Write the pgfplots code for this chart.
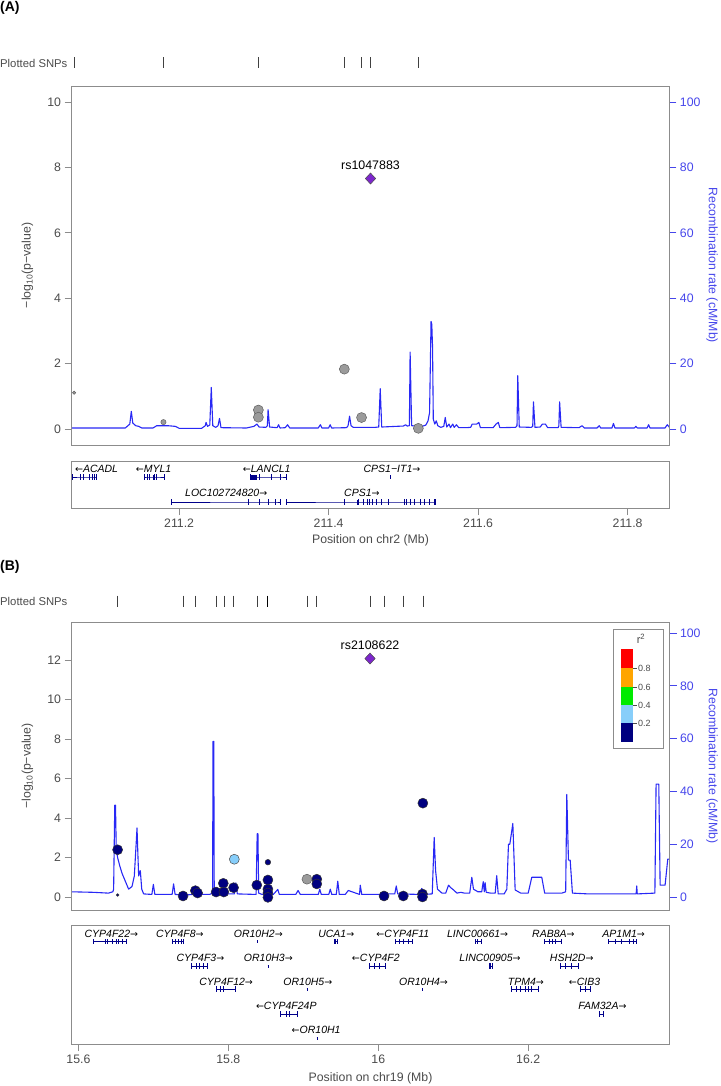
\documentclass[border=0pt]{standalone}
\usepackage{pgfplots}
\pgfplotsset{compat=1.18}
\usepackage{fontspec}
\setmainfont{Liberation Sans}
\newfontfamily\arr{DejaVu Sans}
\newcommand{\RA}{{\fontsize{9.5}{10}\arr →}}
\newcommand{\LA}{{\fontsize{9.5}{10}\arr ←}}

\definecolor{recomb}{RGB}{40,40,245}
\definecolor{raxis}{RGB}{70,70,235}
\definecolor{txtgray}{RGB}{75,75,75}
\definecolor{boxgray}{RGB}{140,140,140}
\definecolor{ptgray}{RGB}{155,155,155}
\definecolor{ptedge}{RGB}{95,95,95}
\definecolor{ldnavy}{RGB}{0,0,128}
\definecolor{ldblue}{RGB}{135,206,250}
\definecolor{ldgreen}{RGB}{0,235,0}
\definecolor{ldorange}{RGB}{255,165,0}
\definecolor{ldred}{RGB}{255,0,0}
\definecolor{leadpurple}{RGB}{125,38,205}
\definecolor{genenavy}{RGB}{0,0,139}

\tikzset{genelab/.style={font=\itshape\fontsize{10.5}{12}\selectfont, inner sep=0pt, anchor=center}}

\pgfplotsset{
  lz/.style={scale only axis, width=598pt,
    font=\fontsize{12.3}{14}\selectfont,
    /pgf/number format/assume math mode=true,
    axis line style={boxgray, line width=0.8pt},
    every tick/.style={boxgray, line width=0.8pt},
    major tick length=7pt, tick align=outside,
    ticklabel style={text=txtgray},
    label style={text=txtgray}},
  recaxis/.style={scale only axis, width=598pt,
    font=\fontsize{12.3}{14}\selectfont,
    /pgf/number format/assume math mode=true,
    axis y line*=right, axis x line=none,
    axis line style={boxgray, line width=0.8pt},
    every tick/.style={raxis, line width=0.8pt},
    major tick length=7pt, tick align=outside,
    ytick={0,20,...,100},
    ticklabel style={text=raxis},
    ylabel={Recombination rate (cM/Mb)},
    ylabel style={text=raxis, at={(axis description cs:1.0711,0.5)}, anchor=center, rotate=180}},
  rug/.style={scale only axis, width=598pt, height=14pt, hide axis,
    ymin=0, ymax=1},
  rugmk/.style={only marks, mark=|, mark size=5.5pt, mark options={line width=0.6pt, draw=black!75}},
  lp/.style={ylabel={−log\textsubscript{10}(p−value)},
    ylabel style={at={(axis description cs:-0.0736,0.5)}, anchor=center}},
  gene/.style={genenavy, line width=0.6pt, mark=|, mark size=2.6pt, mark options={line width=1pt}},
  exon/.style={genenavy, line width=5pt},
  big/.style={only marks, mark=*, mark size=5pt},
  grayp/.style={mark options={fill=ptgray, draw=ptedge, line width=0.5pt}},
  navyp/.style={mark options={fill=ldnavy, draw=black!80, line width=0.5pt}},
}

\begin{document}
\begin{tikzpicture}
\useasboundingbox (0pt,0pt) rectangle (720pt,-1086pt);
\clip (0pt,0pt) rectangle (720pt,-1086pt);

\node[anchor=north west, inner sep=0pt, font=\bfseries\fontsize{14}{16}\selectfont] at (0pt,-1pt) {(A)};
\node[anchor=north west, inner sep=0pt, font=\bfseries\fontsize{14}{16}\selectfont] at (0pt,-560pt) {(B)};

% ---------------- Panel A ----------------
\node[anchor=west, inner sep=0pt, text=txtgray, font=\fontsize{11.3}{13}\selectfont] at (0pt,-63pt) {Plotted SNPs};
\begin{axis}[rug, at={(71.5pt,-70pt)}, anchor=south west, xmin=211.056, xmax=211.856]
\addplot[rugmk] coordinates {(211.0595,0.5)(211.179,0.5)(211.306,0.5)(211.421,0.5)(211.444,0.5)(211.456,0.5)(211.520,0.5)};
\end{axis}

\begin{axis}[recaxis, at={(71.5pt,-445pt)}, anchor=south west, height=359pt,
  xmin=211.056, xmax=211.856, ymin=-4.9, ymax=104.9]
\addplot[recomb, line width=1.1pt, line join=round] coordinates {
(211.056,0.3)(211.128,0.3)(211.134,1.5)(211.136,5.4)(211.138,1.8)(211.142,1.0)(211.146,0.8)(211.150,0.3)
(211.165,0.3)(211.170,1.0)(211.185,1.0)(211.195,0.8)(211.200,0.2)
(211.230,0.2)(211.235,1.0)(211.236,2.0)(211.238,0.8)(211.241,1.2)(211.243,12.7)(211.245,1.0)(211.249,0.5)(211.252,1.0)(211.254,3.2)(211.256,0.4)
(211.290,0.3)(211.300,0.8)(211.304,1.5)(211.307,0.6)(211.316,0.5)(211.318,1.0)(211.319,5.9)(211.321,0.6)
(211.331,0.4)(211.333,1.3)(211.335,0.3)(211.342,0.4)(211.345,1.3)(211.348,0.3)
(211.386,0.3)(211.389,1.3)(211.391,0.3)(211.400,0.3)(211.402,1.3)(211.404,0.3)
(211.424,0.4)(211.426,1.0)(211.428,3.9)(211.430,1.0)(211.433,0.5)
(211.462,0.5)(211.467,0.6)(211.469,12.3)(211.471,0.6)
(211.490,0.8)(211.500,0.9)(211.503,1.3)(211.505,0.9)(211.508,1.0)(211.509,23.5)(211.511,1.0)
(211.525,0.8)(211.530,1.2)(211.533,2.5)(211.535,5)(211.537,32.9)(211.538,32)(211.539,25)(211.540,3)(211.542,1.5)(211.544,2.5)(211.546,1)(211.550,0.5)(211.554,0.8)(211.556,3.5)(211.558,0.6)(211.561,1.5)(211.563,0.4)(211.566,1.5)(211.568,0.5)(211.571,1.3)(211.574,0.4)(211.584,0.4)
(211.590,0.5)(211.592,1.5)(211.598,1.5)(211.601,2.0)(211.603,0.4)
(211.620,0.4)(211.624,1.5)(211.627,2.0)(211.629,0.4)
(211.650,0.5)(211.652,1.0)(211.653,16.3)(211.655,0.6)
(211.671,0.5)(211.673,0.8)(211.674,8.3)(211.676,0.5)
(211.683,0.6)(211.686,1.5)(211.690,1.5)(211.693,0.4)
(211.707,0.4)(211.708,1.0)(211.709,8.3)(211.711,0.5)
(211.735,0.4)(211.739,1.0)(211.742,0.3)
(211.759,0.3)(211.762,1.0)(211.764,0.3)
(211.779,0.3)(211.781,1.7)(211.783,0.3)
(211.809,0.3)(211.811,0.8)(211.813,0.3)
(211.826,0.3)(211.828,1.3)(211.830,0.3)
(211.850,0.3)(211.853,1.3)(211.856,0.5)};
\end{axis}

\begin{axis}[lz, lp, at={(71.5pt,-445pt)}, anchor=south west, height=359pt,
  xmin=211.056, xmax=211.856, ymin=-0.49, ymax=10.49,
  xtick=\empty, ytick={0,2,...,10}, ytick pos=left]
\addplot[only marks, mark=*, mark size=1.6pt, grayp] coordinates {(211.0595,1.11)};
\addplot[only marks, mark=*, mark size=2.6pt, grayp] coordinates {(211.179,0.21)};
\addplot[big, grayp] coordinates {(211.306,0.58)(211.306,0.36)(211.421,1.83)(211.444,0.35)(211.520,0.02)};
\addplot[only marks, mark=diamond*, mark size=5.5pt, mark options={fill=leadpurple, draw=black!70, line width=0.5pt, xscale=1.25}] coordinates {(211.456,7.66)};
\node[font=\fontsize{12.4}{14}\selectfont, text=black] at (axis cs:211.456,7.66) [yshift=13pt] {rs1047883};
\end{axis}

\begin{axis}[lz, at={(71.5pt,-508pt)}, anchor=south west, height=47pt,
  xmin=211.056, xmax=211.856, ymin=-508, ymax=-461, ytick=\empty,
  xtick={211.2,211.4,211.6,211.8}, xticklabels={211.2,211.4,211.6,211.8}, xtick pos=bottom,
  xlabel={Position on chr2 (Mb)}, clip=false]
\addplot[gene] coordinates {(211.0578,-477)(211.0683,-477)(211.0726,-477)(211.0806,-477)(211.0836,-477)(211.0867,-477)(211.0898,-477)};
\addplot[exon] coordinates {(211.0675,-477)(211.0692,-477)};
\addplot[gene] coordinates {(211.1542,-477)(211.1573,-477)(211.1604,-477)(211.1665,-477)(211.1696,-477)(211.1806,-477)};
\addplot[exon] coordinates {(211.1655,-477)(211.1675,-477)};
\addplot[gene] coordinates {(211.2955,-477)(211.3077,-477)(211.323,-477)(211.3354,-477)(211.343,-477)};
\addplot[exon] coordinates {(211.2955,-477)(211.3035,-477)};
\addplot[exon, line width=4pt] coordinates {(211.4825,-477)(211.4835,-477)};
\addplot[gene] coordinates {(211.1892,-502)(211.2924,-502)(211.3077,-502)(211.32,-502)(211.3292,-502)(211.3354,-502)};
\addplot[exon] coordinates {(211.3345,-502)(211.3358,-502)};
\addplot[gene] coordinates {(211.343,-502)(211.4213,-502)(211.4398,-502)(211.446,-502)(211.452,-502)(211.455,-502)(211.458,-502)(211.464,-502)(211.4705,-502)(211.4797,-502)(211.501,-502)(211.504,-502)(211.5094,-502)(211.5155,-502)(211.5226,-502)(211.5288,-502)(211.535,-502)(211.541,-502)(211.543,-502)};
\addplot[exon] coordinates {(211.4385,-502)(211.441,-502)};
\addplot[exon] coordinates {(211.4630,-502)(211.4650,-502)};
\addplot[exon] coordinates {(211.5415,-502)(211.5433,-502)};
\node[genelab] at (axis cs:211.0895,-469) {\LA ACADL};
\node[genelab] at (axis cs:211.1658,-469) {\LA MYL1};
\node[genelab] at (axis cs:211.3172,-469) {\LA LANCL1};
\node[genelab] at (axis cs:211.4847,-469) {CPS1−IT1\RA};
\node[genelab] at (axis cs:211.263,-493) {LOC102724820\RA};
\node[genelab] at (axis cs:211.4445,-493) {CPS1\RA};
\end{axis}

% ---------------- Panel B ----------------
\node[anchor=west, inner sep=0pt, text=txtgray, font=\fontsize{11.3}{13}\selectfont] at (0pt,-601pt) {Plotted SNPs};
\begin{axis}[rug, at={(71.5pt,-608pt)}, anchor=south west, xmin=15.5908, xmax=16.3885]
\addplot[rugmk] coordinates {(15.6523,0.5)(15.7396,0.5)(15.756,0.5)(15.7837,0.5)(15.794,0.5)(15.807,0.5)(15.8388,0.5)(15.9049,0.5)(15.918,0.5)(15.989,0.5)(16.0077,0.5)(16.0334,0.5)(16.0595,0.5)};
\addplot[rugmk, mark options={line width=1.4pt, draw=black}] coordinates {(15.8525,0.5)};
\end{axis}

\begin{axis}[recaxis, at={(71.5pt,-910pt)}, anchor=south west, height=288pt,
  xmin=15.5908, xmax=16.3885, ymin=-4.9, ymax=104.2]
\addplot[recomb, line width=1.1pt, line join=round] coordinates {
(15.5908,2.0)(15.620,1.8)(15.640,1.5)(15.646,2)(15.647,3)(15.6485,34.8)(15.6495,34.8)(15.6505,18)(15.6523,15)(15.655,12)(15.6582,9)(15.6626,6)(15.667,3)(15.6715,4)(15.6746,8)(15.677,20)(15.6782,26.2)(15.6795,15)(15.6804,8)(15.6826,10)(15.6845,3)(15.687,1.2)
(15.698,1.0)(15.700,4.8)(15.702,1.0)(15.725,1.0)(15.727,5.0)(15.729,1.0)(15.740,0.8)(15.756,1.0)(15.758,3.5)(15.760,1.0)(15.775,1.0)(15.7790,1.5)(15.7796,59)(15.7806,59)(15.7812,1.5)(15.785,1.2)(15.790,1.5)(15.800,1.2)(15.808,1.2)(15.810,5.4)(15.812,1.2)(15.837,1.0)(15.8385,24)(15.8395,24)(15.8405,1.5)(15.845,1)(15.860,1.0)(15.866,2.9)(15.868,1)(15.890,1.0)(15.893,2.5)(15.896,1)(15.920,1.0)(15.922,3)(15.924,1)(15.934,1)(15.936,3)(15.938,1)(15.944,1)(15.946,6)(15.948,1)(15.956,1)(15.960,2.5)(15.975,1)(15.976,4.5)(15.978,1)(16.000,1)(16.010,1.2)(16.022,1.2)(16.024,4.2)(16.026,1.2)(16.056,1)(16.058,3.3)(16.060,1)(16.072,1.2)(16.0746,22.6)(16.0765,10)(16.079,3)(16.085,1.5)(16.090,1.5)(16.0937,4.5)(16.097,3.5)(16.100,2.8)(16.105,1.5)(16.110,1.8)(16.115,1.5)(16.122,1.5)(16.1248,7.5)(16.127,3)(16.133,2)(16.138,2)(16.140,5.8)(16.1415,2)(16.1425,5.5)(16.144,1.8)(16.150,1.5)(16.156,1.5)(16.158,8.1)(16.160,1.2)(16.168,1.2)(16.1715,3)(16.1737,20)(16.1755,20)(16.1795,27.9)(16.1826,2.7)(16.190,1.5)(16.200,1.5)(16.2048,7.5)(16.2181,7.5)(16.222,1.5)(16.245,1.5)(16.250,2)(16.2515,38.9)(16.2537,14)(16.256,14)(16.259,1.5)(16.280,1.2)(16.300,1.2)(16.320,1.2)(16.3440,1.2)(16.3448,4.2)(16.3455,1.2)(16.369,1.5)(16.3706,42.8)(16.3742,42.8)(16.376,4.5)(16.3826,4.5)(16.3862,14.4)(16.3885,14.4)};
\end{axis}

\begin{axis}[lz, lp, at={(71.5pt,-910pt)}, anchor=south west, height=288pt,
  xmin=15.5908, xmax=16.3885, ymin=-0.66, ymax=13.92,
  xtick=\empty, ytick={0,2,...,12}, ytick pos=left]
\addplot[only marks, mark=*, mark size=1.3pt, navyp] coordinates {(15.6523,0.10)};
\addplot[big, navyp] coordinates {(15.6523,2.39)(15.7396,0.05)(15.756,0.32)(15.759,0.20)(15.7837,0.25)(15.7933,0.69)(15.794,0.25)(15.807,0.47)(15.838,0.60)(15.8528,0.86)(15.8528,0.40)(15.8528,0.20)(15.8528,-0.02)(15.918,0.90)(15.918,0.66)(16.0077,0.05)(16.0334,0.05)(16.059,0.15)(16.059,0.0)(16.0595,4.75)};
\addplot[only marks, mark=*, mark size=2.8pt, navyp] coordinates {(15.8528,1.76)};
\addplot[big, mark options={fill=ldblue, draw=black!70, line width=0.5pt}] coordinates {(15.808,1.91)};
\addplot[big, grayp] coordinates {(15.9049,0.90)};
\addplot[only marks, mark=diamond*, mark size=5.5pt, mark options={fill=leadpurple, draw=black!70, line width=0.5pt, xscale=1.25}] coordinates {(15.989,12.07)};
\node[font=\fontsize{12.4}{14}\selectfont, text=black] at (axis cs:15.989,12.07) [yshift=13pt] {rs2108622};
\end{axis}

% r^2 legend
\draw[boxgray, line width=0.8pt, fill=white] (613.3pt,-629pt) rectangle (663pt,-748pt);
\node[font=\fontsize{11}{12}\selectfont, text=txtgray] at (641pt,-639pt) {r\textsuperscript{2}};
\fill[ldred] (620.7pt,-649pt) rectangle (632.7pt,-668pt);
\fill[ldorange] (620.7pt,-668pt) rectangle (632.7pt,-687pt);
\fill[ldgreen] (620.7pt,-687pt) rectangle (632.7pt,-705pt);
\fill[ldblue] (620.7pt,-705pt) rectangle (632.7pt,-723pt);
\fill[ldnavy] (620.7pt,-723pt) rectangle (632.7pt,-742pt);
\foreach \yy/\lab in {668/0.8,687/0.6,705/0.4,723/0.2}{
  \draw[txtgray, line width=0.6pt] (632.7pt,-\yy pt) -- (636.5pt,-\yy pt);
  \node[anchor=west, inner sep=0pt, font=\fontsize{9}{10}\selectfont, text=txtgray] at (638pt,-\yy pt) {\lab};
}

\begin{axis}[lz, at={(71.5pt,-1044pt)}, anchor=south west, height=119pt,
  xmin=15.5908, xmax=16.3885, ymin=-1044, ymax=-925, ytick=\empty,
  xtick={15.6,15.8,16,16.2}, xticklabels={15.6,15.8,16,16.2}, xtick pos=bottom,
  xlabel={Position on chr19 (Mb)}, xlabel style={yshift=-2.5pt}, clip=false]
% row 1
\addplot[gene] coordinates {(15.6202,-941.7)(15.6355,-941.7)(15.6392,-941.7)(15.6459,-941.7)(15.6502,-941.7)(15.6539,-941.7)(15.6582,-941.7)(15.6643,-941.7)};
\addplot[gene] coordinates {(15.7255,-941.7)(15.729,-941.7)(15.733,-941.7)(15.737,-941.7)(15.7408,-941.7)};
\addplot[exon, line width=3pt] coordinates {(15.8383,-941.7)(15.8393,-941.7)};
\addplot[gene] coordinates {(15.941,-941.7)(15.9435,-941.7)(15.9459,-941.7)};
\addplot[gene] coordinates {(16.0224,-941.7)(16.028,-941.7)(16.034,-941.7)(16.04,-941.7)(16.0457,-941.7)};
\addplot[gene] coordinates {(16.1295,-941.7)(16.133,-941.7)(16.1375,-941.7)};
\addplot[gene] coordinates {(16.2214,-941.7)(16.228,-941.7)(16.232,-941.7)(16.236,-941.7)(16.244,-941.7)};
\addplot[gene] coordinates {(16.307,-941.7)(16.316,-941.7)(16.325,-941.7)(16.335,-941.7)(16.341,-941.7)(16.344,-941.7)};
% row 2
\addplot[gene] coordinates {(15.7512,-966)(15.757,-966)(15.762,-966)(15.767,-966)(15.772,-966)};
\addplot[exon, line width=3pt] coordinates {(15.8523,-966)(15.8533,-966)};
\addplot[gene] coordinates {(15.9887,-966)(15.995,-966)(16.001,-966)(16.0093,-966)};
\addplot[gene] coordinates {(16.1479,-966)(16.15,-966)(16.1522,-966)};
\addplot[gene] coordinates {(16.2428,-966)(16.25,-966)(16.258,-966)(16.2673,-966)};
% row 3
\addplot[gene] coordinates {(15.7837,-989)(15.79,-989)(15.794,-989)(15.809,-989)};
\addplot[exon] coordinates {(15.7925,-989)(15.7945,-989)};
\addplot[exon, line width=3pt] coordinates {(15.9044,-989)(15.9054,-989)};
\addplot[exon, line width=3pt] coordinates {(16.0586,-989)(16.0596,-989)};
\addplot[gene] coordinates {(16.1773,-989)(16.185,-989)(16.19,-989)(16.196,-989)(16.2,-989)(16.205,-989)(16.2134,-989)};
\addplot[exon] coordinates {(16.1955,-989)(16.1975,-989)};
\addplot[gene] coordinates {(16.2703,-989)(16.276,-989)(16.2826,-989)};
% row 4
\addplot[gene] coordinates {(15.87,-1014)(15.877,-1014)(15.882,-1014)(15.8926,-1014)};
\addplot[exon] coordinates {(15.8805,-1014)(15.8825,-1014)};
\addplot[gene] coordinates {(16.2948,-1014)(16.301,-1014)};
% row 5
\addplot[exon, line width=3pt] coordinates {(15.9178,-1038)(15.9188,-1038)};
\node[genelab] at (axis cs:15.644,-934) {CYP4F22\RA};
\node[genelab] at (axis cs:15.7353,-934) {CYP4F8\RA};
\node[genelab] at (axis cs:15.84,-934) {OR10H2\RA};
\node[genelab] at (axis cs:15.944,-934) {UCA1\RA};
\node[genelab] at (axis cs:16.0328,-934) {\LA CYP4F11};
\node[genelab] at (axis cs:16.1326,-934) {LINC00661\RA};
\node[genelab] at (axis cs:16.2336,-934) {RAB8A\RA};
\node[genelab] at (axis cs:16.3273,-934) {AP1M1\RA};
\node[genelab] at (axis cs:15.7628,-958) {CYP4F3\RA};
\node[genelab] at (axis cs:15.8534,-958) {OR10H3\RA};
\node[genelab] at (axis cs:15.9967,-958) {\LA CYP4F2};
\node[genelab] at (axis cs:16.1491,-958) {LINC00905\RA};
\node[genelab] at (axis cs:16.2581,-958) {HSH2D\RA};
\node[genelab] at (axis cs:15.7971,-981.7) {CYP4F12\RA};
\node[genelab] at (axis cs:15.9061,-981.7) {OR10H5\RA};
\node[genelab] at (axis cs:16.0604,-981.7) {OR10H4\RA};
\node[genelab] at (axis cs:16.1969,-981.7) {TPM4\RA};
\node[genelab] at (axis cs:16.2752,-981.7) {\LA CIB3};
\node[genelab] at (axis cs:15.8773,-1005.7) {\LA CYP4F24P};
\node[genelab] at (axis cs:16.2991,-1005.7) {FAM32A\RA};
\node[genelab] at (axis cs:15.9171,-1030) {\LA OR10H1};
\end{axis}
\end{tikzpicture}
\end{document}
